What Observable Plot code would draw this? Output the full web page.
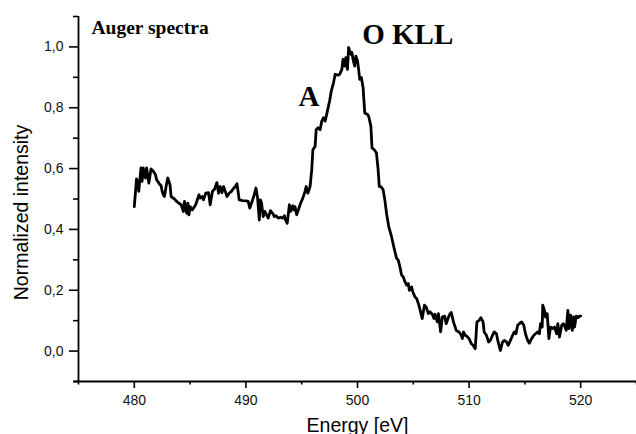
<!DOCTYPE html>
<html>
<head>
<meta charset="utf-8">
<script src="https://cdn.jsdelivr.net/npm/d3@7"></script>
<script src="https://cdn.jsdelivr.net/npm/@observablehq/plot@0.6"></script>
<style>
  html, body { margin: 0; padding: 0; background: #fff; }
  #chart { width: 636px; height: 434px; overflow: hidden; }
</style>
</head>
<body>
<div id="chart"></div>
<script>
// Energy axis (eV) and normalized intensity
const energy = [
  480.0,480.2,480.3,480.4,480.6,480.7,480.8,481.0,481.1,481.2,481.3,481.5,481.7,481.9,482.0,482.1,482.3,482.4,482.5,482.6,
  482.7,482.9,483.0,483.2,483.3,483.6,483.8,484.0,484.2,484.4,484.5,484.7,484.8,484.9,485.0,485.2,485.3,485.5,485.8,485.9,
  486.1,486.2,486.4,486.65,486.8,487.0,487.2,487.4,487.55,487.7,487.85,488.0,488.15,488.3,488.5,488.7,488.85,489.05,489.2,489.4,
  489.7,490.0,490.2,490.35,490.5,490.7,490.9,491.05,491.2,491.3,491.4,491.55,491.7,491.85,492.0,492.2,492.4,492.55,492.7,492.9,
  493.1,493.3,493.45,493.55,493.7,493.9,494.0,494.2,494.3,494.4,494.55,494.7,494.9,495.1,495.3,495.4,495.55,495.75,495.9,496.0,
  496.2,496.3,496.45,496.65,496.8,496.95,497.1,497.3,497.5,497.65,497.85,498.0,498.25,498.4,498.6,498.7,498.85,498.95,499.1,499.2,
  499.4,499.5,499.6,499.75,499.85,500.0,500.1,500.2,500.35,500.5,500.65,500.9,501.0,501.2,501.3,501.5,501.7,501.85,501.95,502.1,
  502.3,502.45,502.6,502.8,503.05,503.25,503.5,503.65,503.8,503.95,504.1,504.25,504.4,504.55,504.65,504.85,504.95,505.15,505.3,505.5,
  505.65,505.8,506.0,506.15,506.35,506.5,506.7,506.85,506.95,507.15,507.25,507.45,507.6,507.8,507.95,508.15,508.3,508.4,508.6,508.85,
  509.1,509.3,509.4,509.5,509.65,509.8,510.0,510.2,510.35,510.55,510.7,510.9,511.05,511.25,511.35,511.55,511.75,511.9,512.1,512.25,
  512.45,512.6,512.8,513.0,513.15,513.35,513.5,513.7,513.9,514.05,514.2,514.35,514.5,514.7,514.9,515.05,515.25,515.4,515.6,515.8,
  515.95,516.15,516.3,516.4,516.55,516.6,516.75,516.85,517.0,517.15,517.3,517.45,517.65,517.85,517.95,518.1,518.3,518.45,518.6,518.7,
  518.85,518.95,519.1,519.25,519.35,519.45,519.6,519.75,519.9,520.0
];
const intensity = [
  0.475,0.566,0.552,0.525,0.602,0.558,0.602,0.569,0.602,0.580,0.552,0.599,0.591,0.580,0.563,0.558,0.547,0.544,0.525,0.514,
  0.508,0.552,0.569,0.547,0.508,0.500,0.492,0.486,0.481,0.459,0.492,0.453,0.486,0.448,0.475,0.464,0.470,0.481,0.514,0.503,
  0.508,0.497,0.519,0.521,0.481,0.525,0.533,0.554,0.519,0.541,0.521,0.541,0.525,0.508,0.519,0.525,0.533,0.541,0.550,0.497,
  0.495,0.494,0.492,0.470,0.486,0.508,0.536,0.503,0.431,0.497,0.486,0.442,0.459,0.448,0.437,0.462,0.453,0.442,0.445,0.437,
  0.440,0.437,0.445,0.431,0.420,0.481,0.459,0.478,0.464,0.475,0.448,0.464,0.486,0.503,0.525,0.541,0.519,0.541,0.596,0.662,
  0.673,0.728,0.734,0.728,0.756,0.767,0.756,0.789,0.822,0.855,0.882,0.910,0.907,0.910,0.926,0.959,0.937,0.965,0.926,0.998,
  0.976,0.982,0.959,0.937,0.970,0.954,0.926,0.893,0.899,0.866,0.783,0.778,0.772,0.739,0.668,0.662,0.651,0.596,0.541,0.541,
  0.530,0.497,0.453,0.409,0.376,0.343,0.305,0.299,0.277,0.250,0.244,0.228,0.217,0.222,0.200,0.211,0.195,0.178,0.173,0.151,
  0.129,0.107,0.151,0.145,0.123,0.129,0.121,0.107,0.121,0.096,0.123,0.063,0.112,0.115,0.090,0.112,0.123,0.127,0.096,0.068,
  0.063,0.052,0.041,0.063,0.052,0.049,0.041,0.024,0.019,0.008,0.096,0.101,0.110,0.096,0.063,0.052,0.030,0.035,0.052,0.063,
  0.057,0.030,0.002,0.030,0.035,0.030,0.019,0.035,0.052,0.063,0.057,0.085,0.090,0.096,0.085,0.057,0.035,0.026,0.041,0.052,
  0.057,0.063,0.057,0.090,0.079,0.151,0.134,0.112,0.123,0.041,0.079,0.074,0.079,0.057,0.090,0.046,0.085,0.090,0.079,0.068,
  0.134,0.074,0.118,0.068,0.112,0.079,0.115,0.110,0.115,0.115
];

// Ticks
const xMajorTicks = [480, 490, 500, 510, 520];
const xMinorTicks = [475, 485, 495, 505, 515, 525];
const yMajorTicks = [0.0, 0.2, 0.4, 0.6, 0.8, 1.0];
const yMinorTicks = [-0.1, 0.1, 0.3, 0.5, 0.7, 0.9, 1.1];

// Texts
const titleText = "Auger spectra";
const xLabel = "Energy [eV]";
const yLabel = "Normalized intensity";
const peakLabels = ["O KLL", "A"];
const peakLabelX = [500.42, 494.71];
const peakLabelY = [1.008, 0.807];

const xDomain = [475, 525];
const yDomain = [-0.1, 1.1];

const rows = energy.map((e, i) => ({e, v: intensity[i]}));
const peaks = peakLabels.map((t, i) => ({t, x: peakLabelX[i], y: peakLabelY[i]}));

const sans = "'Liberation Sans', Arial, sans-serif";
const serif = "'Liberation Serif', 'Times New Roman', serif";
const fmt = d => d.toFixed(1).replace(".", ",");

const chart = Plot.plot({
  width: 636,
  height: 434,
  marginLeft: 78,
  marginRight: 0,
  marginTop: 16,
  marginBottom: 53,
  style: {fontFamily: sans, background: "#fff", color: "#000", overflow: "visible"},
  x: {domain: xDomain},
  y: {domain: yDomain},
  marks: [
    Plot.ruleX([xDomain[0]], {stroke: "#000", strokeWidth: 1.8, y1: yDomain[0], y2: yDomain[1]}),
    Plot.ruleY([yDomain[0]], {stroke: "#000", strokeWidth: 1.8, x1: 474.6, x2: xDomain[1]}),
    Plot.axisX(xMajorTicks, {tickSize: 7, tickPadding: 7, fontSize: 14, strokeWidth: 1.6, label: null, stroke: "#000", fill: "#111"}),
    Plot.axisX(xMinorTicks, {tickSize: 3.5, tickFormat: () => "", strokeWidth: 1.6, label: null, stroke: "#000"}),
    Plot.axisY(yMajorTicks, {tickSize: 9, tickPadding: 6, fontSize: 14, tickFormat: fmt, strokeWidth: 1.6, label: null, stroke: "#000", fill: "#111"}),
    Plot.axisY(yMinorTicks, {tickSize: 5, tickFormat: () => "", strokeWidth: 1.6, label: null, stroke: "#000"}),
    Plot.line(rows, {x: "e", y: "v", stroke: "#000", strokeWidth: 2.8, strokeLinejoin: "round"}),
    Plot.text([titleText], {frameAnchor: "top-left", dx: 13, dy: 17, text: d => d, textAnchor: "start", lineAnchor: "bottom", fontFamily: serif, fontWeight: "bold", fontSize: 19.5, fill: "#000"}),
    Plot.text(peaks, {x: "x", y: "y", text: "t", textAnchor: "start", lineAnchor: "bottom", fontFamily: serif, fontWeight: "bold", fontSize: 29, fill: "#000"}),
    Plot.text([xLabel], {frameAnchor: "bottom", dy: 50, text: d => d, textAnchor: "middle", lineAnchor: "bottom", fontSize: 19.5, fill: "#000"}),
    Plot.text([yLabel], {frameAnchor: "left", dx: -51, dy: 13.5, rotate: -90, text: d => d, textAnchor: "middle", lineAnchor: "bottom", fontSize: 19.5, fill: "#000"})
  ]
});
document.getElementById("chart").appendChild(chart);
</script>
</body>
</html>
